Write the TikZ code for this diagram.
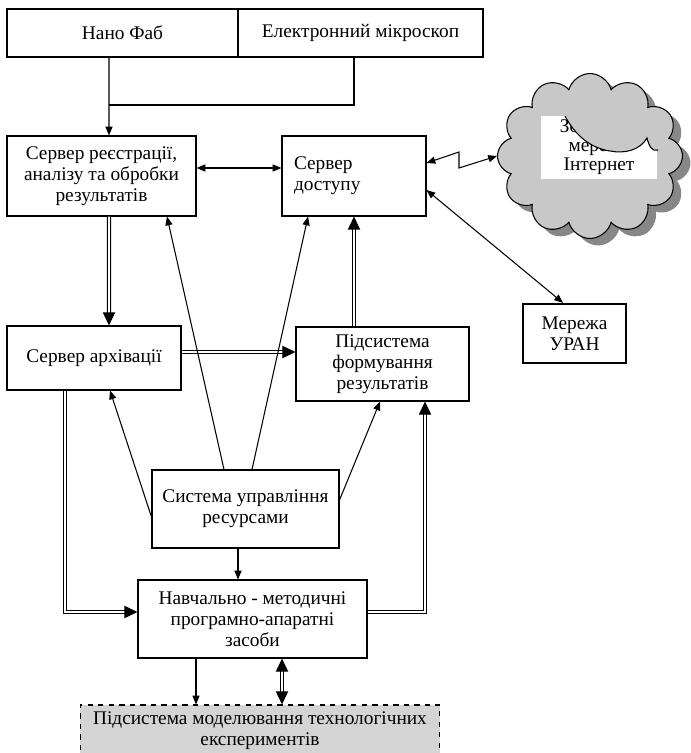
\documentclass[tikz,border=0pt]{standalone}
\usepackage{fontspec}
\setmainfont{Liberation Serif}
\usetikzlibrary{arrows.meta, positioning, calc, shapes.symbols, shadows, decorations.markings}
\definecolor{cloudgray}{RGB}{200,200,200}
\definecolor{shadowgray}{RGB}{135,135,135}
\definecolor{modelgray}{RGB}{212,212,212}

\begin{document}
\begin{tikzpicture}[
        x=0.02cm, y=-0.02cm,
        every node/.style={font=\fontsize{11}{12}\selectfont},
        box/.style={rectangle, draw, line width=0.6pt, inner sep=2pt, align=center},
        arr/.style={-{Triangle[length=5pt,width=4pt]}, line width=0.6pt},
        darr/.style={{Triangle[length=5pt,width=4pt]}-{Triangle[length=5pt,width=4pt]}, line width=0.6pt},
        endtip/.style={postaction={decorate, decoration={markings,
            mark=at position 1 with {\arrow[line width=0.6pt]{Triangle[length=7.5pt,width=7pt]}}}}},
        starttip/.style={postaction={decorate, decoration={markings,
            mark=at position 0 with {\arrowreversed[line width=0.6pt]{Triangle[length=7.5pt,width=7pt]}}}}},
        dbl/.style={double, line width=0.7pt, double distance=1pt, shorten >=5pt, endtip},
        ddbl/.style={double, line width=0.7pt, double distance=1pt, shorten >=5pt, shorten <=5pt, endtip, starttip}
    ]
        \useasboundingbox (0,0) rectangle (690,753);

        \node[box, minimum width=4.62cm, minimum height=0.96cm] (nano) at (122.5,33) {Нано Фаб};
        \node[box, minimum width=4.9cm, minimum height=0.96cm] (micro) at (360.5,33) {Електронний мікроскоп};
        \node[box, minimum width=3.78cm, minimum height=1.6cm] (reg) at (101.5,176) {Сервер реєстрації,\\аналізу та обробки\\результатів};
        \node[box, minimum width=2.88cm, minimum height=1.6cm, text width=2.4cm, align=left] (access) at (354,176) {Сервер\\доступу};
        \node[box, minimum width=3.48cm, minimum height=1.28cm] (archive) at (94,358) {Сервер архівації};
        \node[box, minimum width=3.46cm, minimum height=1.48cm] (form) at (382.5,364) {Підсистема\\формування\\результатів};
        \node[box, minimum width=3.74cm, minimum height=1.56cm] (manage) at (245.5,509) {Система управління\\ресурсами};
        \node[box, minimum width=4.58cm, minimum height=1.56cm] (tools) at (252.5,619) {Навчально - методичні\\програмно-апаратні\\засоби};
        \node[box, dashed, fill=modelgray, minimum width=7.2cm, minimum height=1.04cm] (model) at (260,731) {Підсистема моделювання технологічних\\експериментів};
        \node[box, line width=1.3pt, minimum width=2.06cm, minimum height=1.18cm] (uran) at (574.5,333.5) {Мережа\\УРАН};

        \node[cloud, cloud puffs=12, draw, line width=0.6pt, fill=cloudgray, minimum width=3.7cm, minimum height=3.3cm,
            drop shadow={fill=shadowgray, opacity=1, shadow xshift=0.16cm, shadow yshift=-0.14cm}] (inet) at (590,156) {};
        \node[fill=white, minimum width=2.32cm, minimum height=1.26cm, inner sep=0pt, align=center,
            font=\fontsize{11}{10.8}\selectfont] (inettxt) at (599,147.5) {Зовнішня\\мережа\\Інтернет};
        \fill[cloudgray] (565,116) -- (658,116) -- (658,150) .. controls (652,152) and (649,146) .. (647,138)
            .. controls (640,150) and (625,154) .. (610,151) .. controls (590,148) and (575,135) .. (565,116) -- cycle;
        \draw[line width=0.6pt] (658,150) .. controls (652,152) and (649,146) .. (647,138)
            .. controls (640,150) and (625,154) .. (610,151) .. controls (590,148) and (575,135) .. (565,116);

        \coordinate (fork) at (354,105);
        \coordinate (zz1) at (459,152);
        \coordinate (zz2) at (459,168);

        \draw[line width=0.6pt] ([xshift=-0.13cm]micro.south) |- ([xshift=0.15cm]reg.north |- fork);
        \draw[arr] ([xshift=-0.27cm]nano.south) -- ([xshift=0.15cm]reg.north);
        \draw[darr] ([yshift=0.16cm]reg.east) -- ([yshift=0.16cm]access.west);
        \draw[darr] ([yshift=0.26cm]access.east) -- (zz1) -- (zz2) -- (inet.west);
        \draw[darr] ([yshift=-0.28cm]access.east) -- ([xshift=-0.23cm]uran.north);

        \draw[dbl] ([xshift=0.15cm]reg.south) -- ([xshift=0.3cm]archive.north);
        \draw[dbl] ([yshift=0.12cm]archive.east) -- ([yshift=0.12cm]archive.east -| form.west);
        \draw[dbl] (form.north -| access.south) -- (access.south);

        \draw[arr] ([xshift=-0.43cm]manage.north) -- ([xshift=1.31cm]reg.south);
        \draw[arr] ([xshift=0.13cm]manage.north) -- ([xshift=-0.92cm]access.south);
        \draw[arr] ([yshift=-0.16cm]manage.west) -- ([xshift=0.32cm]archive.south);
        \draw[arr] ([yshift=0.18cm]manage.east) -- ([xshift=-0.05cm]form.south);
        \draw[arr] ([xshift=-0.15cm]manage.south) -- ([xshift=-0.15cm]manage.south |- tools.north);

        \draw[dbl] ([xshift=-0.58cm]archive.south) |- ([yshift=0.14cm]tools.west);
        \draw[dbl] ([yshift=0.14cm]tools.east) -| ([xshift=0.85cm]form.south);

        \draw[arr] ([xshift=-1.13cm]tools.south) -- ([xshift=-1.13cm]tools.south |- model.north);
        \draw[ddbl] ([xshift=0.59cm]tools.south) -- ([xshift=0.59cm]tools.south |- model.north);
    \end{tikzpicture}
\end{document}
